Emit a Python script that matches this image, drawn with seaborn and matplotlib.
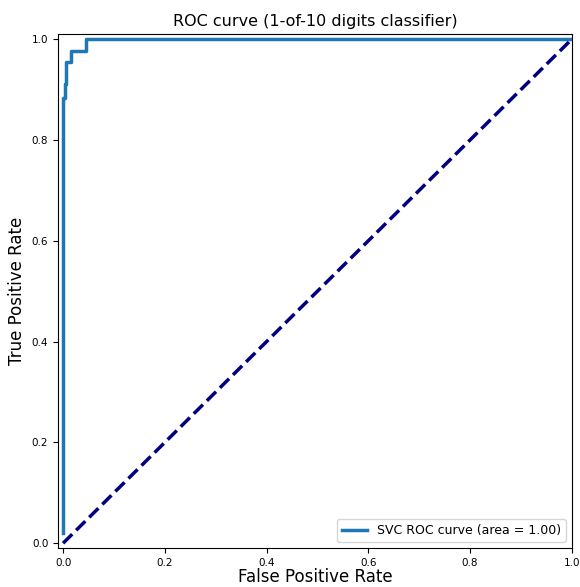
import pandas as pd
import matplotlib.pyplot as plt
import seaborn as sns

# ROC points
fpr = [0.0, 0.0, 0.003, 0.003, 0.005, 0.005, 0.016, 0.016, 0.046, 0.046, 1.0]
tpr = [0.02, 0.884, 0.884, 0.91, 0.91, 0.955, 0.955, 0.977, 0.977, 1.0, 1.0]
roc_auc = 1.00

diag = [0.0, 1.0]

roc_df = pd.DataFrame({'fpr': fpr, 'tpr': tpr})
diag_df = pd.DataFrame({'x': diag, 'y': diag})

fig = plt.figure(figsize=(5.8, 5.87), dpi=100)
ax = fig.add_axes([0.1, 0.066, 0.886, 0.876])

sns.lineplot(data=roc_df, x='fpr', y='tpr', estimator=None, sort=False, ax=ax,
             lw=2.5, color='#1f77b4', label='SVC ROC curve (area = {:0.2f})'.format(roc_auc))
sns.lineplot(data=diag_df, x='x', y='y', estimator=None, sort=False, ax=ax,
             lw=2.5, color='navy', linestyle='--')

ax.set_xlim([-0.01, 1.00])
ax.set_ylim([-0.01, 1.01])
ax.set_xlabel('False Positive Rate', fontsize=12, labelpad=0)
ax.set_ylabel('True Positive Rate', fontsize=12)
ax.set_title('ROC curve (1-of-10 digits classifier)', fontsize=11.5)
ax.tick_params(labelsize=7.5)
ax.legend(loc='lower right', fontsize=9)

fig.savefig('out.png', dpi=100)
